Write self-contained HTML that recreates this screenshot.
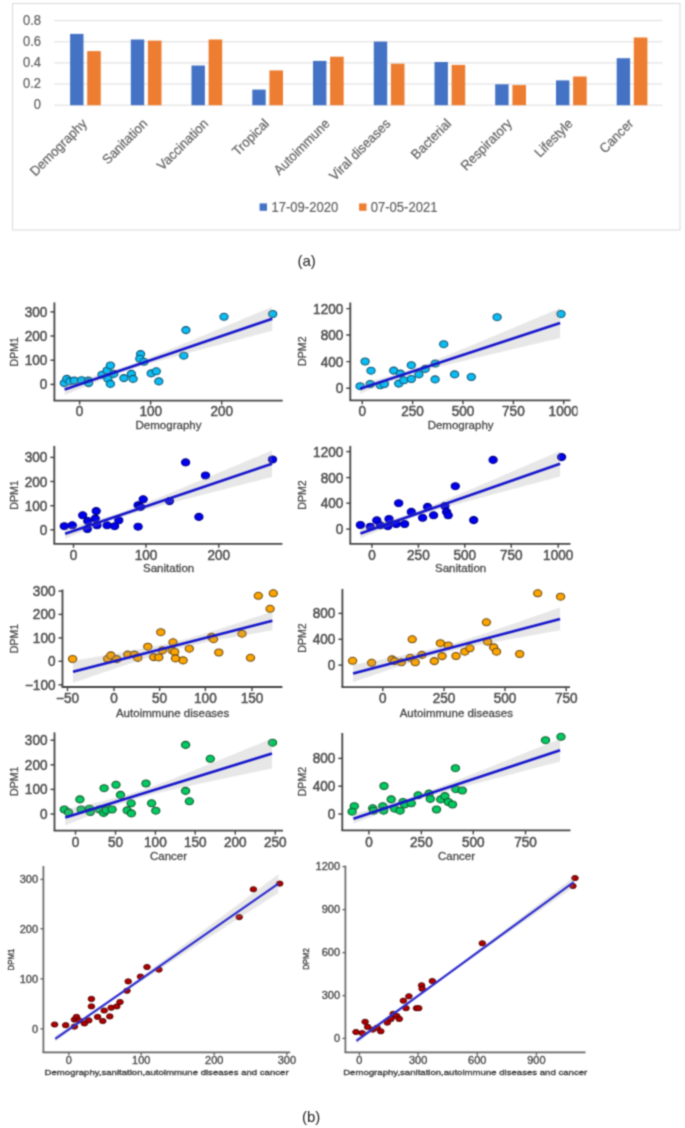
<!DOCTYPE html>
<html><head><meta charset="utf-8"><style>
html,body{margin:0;padding:0;background:#fff;}
body{width:685px;height:1128px;overflow:hidden;}
svg{display:block;font-family:"Liberation Sans", sans-serif;}
</style></head><body>
<svg width="685" height="1128" viewBox="0 0 685 1128">
<defs><clipPath id="clipB1"><rect x="290" y="290" width="287.5" height="150"/></clipPath>
<filter id="bl" filterUnits="userSpaceOnUse" x="0" y="0" width="685" height="1128" color-interpolation-filters="sRGB"><feConvolveMatrix order="3" kernelMatrix="0.04387 0.12171 0.04387 0.12171 0.33767 0.12171 0.04387 0.12171 0.04387" edgeMode="duplicate"/></filter></defs>
<rect width="685" height="1128" fill="#fff"/>
<g filter="url(#bl)">
<rect x="12.5" y="3.5" width="667.5" height="226.5" fill="#fff" stroke="#d9d9d9" stroke-width="1"/>
<line x1="54.3" y1="20.6" x2="662.5" y2="20.6" stroke="#dcdcdc" stroke-width="1"/>
<text transform="translate(41,24.5) scale(0.91,1)" text-anchor="end" font-size="14.2" fill="#636363" stroke="#636363" stroke-width="0.25">0.8</text>
<line x1="54.3" y1="41.75" x2="662.5" y2="41.75" stroke="#dcdcdc" stroke-width="1"/>
<text transform="translate(41,45.6) scale(0.91,1)" text-anchor="end" font-size="14.2" fill="#636363" stroke="#636363" stroke-width="0.25">0.6</text>
<line x1="54.3" y1="62.9" x2="662.5" y2="62.9" stroke="#dcdcdc" stroke-width="1"/>
<text transform="translate(41,66.8) scale(0.91,1)" text-anchor="end" font-size="14.2" fill="#636363" stroke="#636363" stroke-width="0.25">0.4</text>
<line x1="54.3" y1="84.05" x2="662.5" y2="84.05" stroke="#dcdcdc" stroke-width="1"/>
<text transform="translate(41,88.0) scale(0.91,1)" text-anchor="end" font-size="14.2" fill="#636363" stroke="#636363" stroke-width="0.25">0.2</text>
<line x1="54.3" y1="105.2" x2="662.5" y2="105.2" stroke="#dcdcdc" stroke-width="1"/>
<text transform="translate(41,109.1) scale(0.91,1)" text-anchor="end" font-size="14.2" fill="#636363" stroke="#636363" stroke-width="0.25">0</text>
<rect x="70.1" y="33.9" width="13.4" height="71.3" fill="#4472C4"/>
<rect x="87.2" y="51.099999999999994" width="13.6" height="54.1" fill="#ED7D31"/>
<text transform="translate(87.7,124.5) rotate(-45) scale(0.95,1)" text-anchor="end" font-size="13.6" fill="#636363" stroke="#636363" stroke-width="0.2">Demography</text>
<rect x="130.8" y="39.5" width="13.4" height="65.7" fill="#4472C4"/>
<rect x="147.9" y="40.599999999999994" width="13.6" height="64.6" fill="#ED7D31"/>
<text transform="translate(148.4,124.5) rotate(-45) scale(0.95,1)" text-anchor="end" font-size="13.6" fill="#636363" stroke="#636363" stroke-width="0.2">Sanitation</text>
<rect x="191.5" y="65.5" width="13.4" height="39.7" fill="#4472C4"/>
<rect x="208.6" y="39.5" width="13.6" height="65.7" fill="#ED7D31"/>
<text transform="translate(209.1,124.5) rotate(-45) scale(0.95,1)" text-anchor="end" font-size="13.6" fill="#636363" stroke="#636363" stroke-width="0.2">Vaccination</text>
<rect x="252.3" y="89.6" width="13.4" height="15.6" fill="#4472C4"/>
<rect x="269.4" y="70.39999999999999" width="13.6" height="34.8" fill="#ED7D31"/>
<text transform="translate(269.9,124.5) rotate(-45) scale(0.95,1)" text-anchor="end" font-size="13.6" fill="#636363" stroke="#636363" stroke-width="0.2">Tropical</text>
<rect x="313.0" y="60.9" width="13.4" height="44.3" fill="#4472C4"/>
<rect x="330.1" y="56.699999999999996" width="13.6" height="48.5" fill="#ED7D31"/>
<text transform="translate(330.6,124.5) rotate(-45) scale(0.95,1)" text-anchor="end" font-size="13.6" fill="#636363" stroke="#636363" stroke-width="0.2">Autoimmune</text>
<rect x="373.8" y="41.599999999999994" width="13.4" height="63.6" fill="#4472C4"/>
<rect x="390.9" y="63.699999999999996" width="13.6" height="41.5" fill="#ED7D31"/>
<text transform="translate(391.4,124.5) rotate(-45) scale(0.95,1)" text-anchor="end" font-size="13.6" fill="#636363" stroke="#636363" stroke-width="0.2">Viral diseases</text>
<rect x="434.5" y="62.0" width="13.4" height="43.2" fill="#4472C4"/>
<rect x="451.6" y="64.89999999999999" width="13.6" height="40.3" fill="#ED7D31"/>
<text transform="translate(452.1,124.5) rotate(-45) scale(0.95,1)" text-anchor="end" font-size="13.6" fill="#636363" stroke="#636363" stroke-width="0.2">Bacterial</text>
<rect x="495.2" y="84.3" width="13.4" height="20.9" fill="#4472C4"/>
<rect x="512.4" y="85.1" width="13.6" height="20.1" fill="#ED7D31"/>
<text transform="translate(512.9,124.5) rotate(-45) scale(0.95,1)" text-anchor="end" font-size="13.6" fill="#636363" stroke="#636363" stroke-width="0.2">Respiratory</text>
<rect x="556.0" y="80.39999999999999" width="13.4" height="24.8" fill="#4472C4"/>
<rect x="573.1" y="76.5" width="13.6" height="28.7" fill="#ED7D31"/>
<text transform="translate(573.6,124.5) rotate(-45) scale(0.95,1)" text-anchor="end" font-size="13.6" fill="#636363" stroke="#636363" stroke-width="0.2">Lifestyle</text>
<rect x="616.7" y="58.199999999999996" width="13.4" height="47.0" fill="#4472C4"/>
<rect x="633.8" y="37.5" width="13.6" height="67.7" fill="#ED7D31"/>
<text transform="translate(634.3,124.5) rotate(-45) scale(0.95,1)" text-anchor="end" font-size="13.6" fill="#636363" stroke="#636363" stroke-width="0.2">Cancer</text>
<rect x="259.6" y="203.4" width="7.4" height="7.4" fill="#4472C4"/>
<text transform="translate(271.5,212) scale(0.94,1)" font-size="13.9" fill="#636363" stroke="#636363" stroke-width="0.2">17-09-2020</text>
<rect x="359.1" y="203.4" width="7.4" height="7.4" fill="#ED7D31"/>
<text transform="translate(370.7,212) scale(0.94,1)" font-size="13.9" fill="#636363" stroke="#636363" stroke-width="0.2">07-05-2021</text>
<text x="297.5" y="266" font-size="15" fill="#222">(a)</text>
<ellipse cx="64.3" cy="383.1" rx="4.1" ry="3.5" fill="#0abdf5" stroke="#125470" stroke-width="1.1"/>
<ellipse cx="66.8" cy="378.9" rx="4.1" ry="3.5" fill="#0abdf5" stroke="#125470" stroke-width="1.1"/>
<ellipse cx="69.8" cy="381.4" rx="4.1" ry="3.5" fill="#0abdf5" stroke="#125470" stroke-width="1.1"/>
<ellipse cx="74.3" cy="380.6" rx="4.1" ry="3.5" fill="#0abdf5" stroke="#125470" stroke-width="1.1"/>
<ellipse cx="81.6" cy="380.2" rx="4.1" ry="3.5" fill="#0abdf5" stroke="#125470" stroke-width="1.1"/>
<ellipse cx="88.3" cy="380.6" rx="4.1" ry="3.5" fill="#0abdf5" stroke="#125470" stroke-width="1.1"/>
<ellipse cx="88.6" cy="383.1" rx="4.1" ry="3.5" fill="#0abdf5" stroke="#125470" stroke-width="1.1"/>
<ellipse cx="102" cy="374.7" rx="4.1" ry="3.5" fill="#0abdf5" stroke="#125470" stroke-width="1.1"/>
<ellipse cx="107.1" cy="370.5" rx="4.1" ry="3.5" fill="#0abdf5" stroke="#125470" stroke-width="1.1"/>
<ellipse cx="110.4" cy="365.5" rx="4.1" ry="3.5" fill="#0abdf5" stroke="#125470" stroke-width="1.1"/>
<ellipse cx="107.9" cy="378.9" rx="4.1" ry="3.5" fill="#0abdf5" stroke="#125470" stroke-width="1.1"/>
<ellipse cx="110.4" cy="383.9" rx="4.1" ry="3.5" fill="#0abdf5" stroke="#125470" stroke-width="1.1"/>
<ellipse cx="113.8" cy="373.9" rx="4.1" ry="3.5" fill="#0abdf5" stroke="#125470" stroke-width="1.1"/>
<ellipse cx="123.9" cy="378.1" rx="4.1" ry="3.5" fill="#0abdf5" stroke="#125470" stroke-width="1.1"/>
<ellipse cx="131.4" cy="373.9" rx="4.1" ry="3.5" fill="#0abdf5" stroke="#125470" stroke-width="1.1"/>
<ellipse cx="133.1" cy="378.9" rx="4.1" ry="3.5" fill="#0abdf5" stroke="#125470" stroke-width="1.1"/>
<ellipse cx="140.6" cy="354.1" rx="4.1" ry="3.5" fill="#0abdf5" stroke="#125470" stroke-width="1.1"/>
<ellipse cx="139.8" cy="358.8" rx="4.1" ry="3.5" fill="#0abdf5" stroke="#125470" stroke-width="1.1"/>
<ellipse cx="144" cy="361.8" rx="4.1" ry="3.5" fill="#0abdf5" stroke="#125470" stroke-width="1.1"/>
<ellipse cx="151.2" cy="373.4" rx="4.1" ry="3.5" fill="#0abdf5" stroke="#125470" stroke-width="1.1"/>
<ellipse cx="156.3" cy="371.3" rx="4.1" ry="3.5" fill="#0abdf5" stroke="#125470" stroke-width="1.1"/>
<ellipse cx="158.8" cy="381.4" rx="4.1" ry="3.5" fill="#0abdf5" stroke="#125470" stroke-width="1.1"/>
<ellipse cx="185.9" cy="330.1" rx="4.1" ry="3.5" fill="#0abdf5" stroke="#125470" stroke-width="1.1"/>
<ellipse cx="224" cy="316.8" rx="4.1" ry="3.5" fill="#0abdf5" stroke="#125470" stroke-width="1.1"/>
<ellipse cx="272.7" cy="314" rx="4.1" ry="3.5" fill="#0abdf5" stroke="#125470" stroke-width="1.1"/>
<ellipse cx="183.8" cy="355.7" rx="4.1" ry="3.5" fill="#0abdf5" stroke="#125470" stroke-width="1.1"/>
<polygon points="64.6,384.1 69.8,382.7 75.0,381.3 80.2,379.9 85.4,378.4 90.6,377.0 95.8,375.5 100.9,374.0 106.1,372.5 111.3,370.9 116.5,369.3 121.7,367.6 126.9,365.8 132.1,364.0 137.3,362.1 142.5,360.2 147.7,358.2 152.9,356.2 158.1,354.1 163.3,352.0 168.4,349.9 173.6,347.8 178.8,345.7 184.0,343.5 189.2,341.4 194.4,339.2 199.6,337.1 204.8,334.9 210.0,332.8 215.2,330.6 220.4,328.4 225.6,326.3 230.8,324.1 236.0,321.9 241.1,319.8 246.3,317.6 251.5,315.4 256.7,313.2 261.9,311.1 267.1,308.9 272.3,306.7 272.3,330.7 267.1,332.1 261.9,333.4 256.7,334.8 251.5,336.2 246.3,337.5 241.1,338.9 236.0,340.3 230.8,341.7 225.6,343.0 220.4,344.4 215.2,345.8 210.0,347.2 204.8,348.5 199.6,349.9 194.4,351.3 189.2,352.7 184.0,354.1 178.8,355.5 173.6,357.0 168.4,358.4 163.3,359.8 158.1,361.3 152.9,362.8 147.7,364.3 142.5,365.8 137.3,367.5 132.1,369.1 126.9,370.8 121.7,372.6 116.5,374.5 111.3,376.4 106.1,378.4 100.9,380.4 95.8,382.4 90.6,384.5 85.4,386.6 80.2,388.7 75.0,390.8 69.8,393.0 64.6,395.1" fill="#999999" fill-opacity="0.23"/>
<line x1="64.6" y1="389.6" x2="272.3" y2="318.7" stroke="#1515cc" stroke-width="2.6"/>
<line x1="54.4" y1="302.4" x2="54.4" y2="400.7" stroke="#444" stroke-width="1.8"/>
<line x1="53.5" y1="400.7" x2="282.7" y2="400.7" stroke="#444" stroke-width="1.8"/>
<line x1="50.4" y1="311.9" x2="54.4" y2="311.9" stroke="#444" stroke-width="1.4400000000000002"/>
<text transform="translate(47.4,316.9) scale(0.97,1)" text-anchor="end" font-size="14" fill="#4d4d4d" stroke="#4d4d4d" stroke-width="0.5">300</text>
<line x1="50.4" y1="336.0" x2="54.4" y2="336.0" stroke="#444" stroke-width="1.4400000000000002"/>
<text transform="translate(47.4,341.0) scale(0.97,1)" text-anchor="end" font-size="14" fill="#4d4d4d" stroke="#4d4d4d" stroke-width="0.5">200</text>
<line x1="50.4" y1="360.2" x2="54.4" y2="360.2" stroke="#444" stroke-width="1.4400000000000002"/>
<text transform="translate(47.4,365.2) scale(0.97,1)" text-anchor="end" font-size="14" fill="#4d4d4d" stroke="#4d4d4d" stroke-width="0.5">100</text>
<line x1="50.4" y1="384.4" x2="54.4" y2="384.4" stroke="#444" stroke-width="1.4400000000000002"/>
<text transform="translate(47.4,389.4) scale(0.97,1)" text-anchor="end" font-size="14" fill="#4d4d4d" stroke="#4d4d4d" stroke-width="0.5">0</text>
<line x1="79.6" y1="400.7" x2="79.6" y2="404.7" stroke="#444" stroke-width="1.4400000000000002"/>
<text transform="translate(79.6,416.0) scale(0.97,1)" text-anchor="middle" font-size="14" fill="#4d4d4d" stroke="#4d4d4d" stroke-width="0.5">0</text>
<line x1="150.65" y1="400.7" x2="150.65" y2="404.7" stroke="#444" stroke-width="1.4400000000000002"/>
<text transform="translate(150.7,416.0) scale(0.97,1)" text-anchor="middle" font-size="14" fill="#4d4d4d" stroke="#4d4d4d" stroke-width="0.5">100</text>
<line x1="221.7" y1="400.7" x2="221.7" y2="404.7" stroke="#444" stroke-width="1.4400000000000002"/>
<text transform="translate(221.7,416.0) scale(0.97,1)" text-anchor="middle" font-size="14" fill="#4d4d4d" stroke="#4d4d4d" stroke-width="0.5">200</text>
<text transform="translate(168.5,428.9) scale(1.13,1)" text-anchor="middle" font-size="10.2" fill="#444" stroke="#444" stroke-width="0.25">Demography</text>
<text transform="translate(17.8,351.8) rotate(-90) scale(1,0.97)" text-anchor="middle" font-size="10.6" fill="#444" stroke="#444" stroke-width="0.25">DPM1</text>
<g clip-path="url(#clipB1)">
<ellipse cx="360.1" cy="386.2" rx="4.1" ry="3.5" fill="#0abdf5" stroke="#125470" stroke-width="1.1"/>
<ellipse cx="365.1" cy="361.5" rx="4.1" ry="3.5" fill="#0abdf5" stroke="#125470" stroke-width="1.1"/>
<ellipse cx="371" cy="370.7" rx="4.1" ry="3.5" fill="#0abdf5" stroke="#125470" stroke-width="1.1"/>
<ellipse cx="370.2" cy="384" rx="4.1" ry="3.5" fill="#0abdf5" stroke="#125470" stroke-width="1.1"/>
<ellipse cx="380.3" cy="385.3" rx="4.1" ry="3.5" fill="#0abdf5" stroke="#125470" stroke-width="1.1"/>
<ellipse cx="384.4" cy="384" rx="4.1" ry="3.5" fill="#0abdf5" stroke="#125470" stroke-width="1.1"/>
<ellipse cx="393.7" cy="370.6" rx="4.1" ry="3.5" fill="#0abdf5" stroke="#125470" stroke-width="1.1"/>
<ellipse cx="398.7" cy="383.6" rx="4.1" ry="3.5" fill="#0abdf5" stroke="#125470" stroke-width="1.1"/>
<ellipse cx="400.4" cy="373.6" rx="4.1" ry="3.5" fill="#0abdf5" stroke="#125470" stroke-width="1.1"/>
<ellipse cx="403.8" cy="380.3" rx="4.1" ry="3.5" fill="#0abdf5" stroke="#125470" stroke-width="1.1"/>
<ellipse cx="411.3" cy="365.2" rx="4.1" ry="3.5" fill="#0abdf5" stroke="#125470" stroke-width="1.1"/>
<ellipse cx="411.3" cy="379" rx="4.1" ry="3.5" fill="#0abdf5" stroke="#125470" stroke-width="1.1"/>
<ellipse cx="418.9" cy="374.4" rx="4.1" ry="3.5" fill="#0abdf5" stroke="#125470" stroke-width="1.1"/>
<ellipse cx="425.2" cy="368.9" rx="4.1" ry="3.5" fill="#0abdf5" stroke="#125470" stroke-width="1.1"/>
<ellipse cx="435.3" cy="363.5" rx="4.1" ry="3.5" fill="#0abdf5" stroke="#125470" stroke-width="1.1"/>
<ellipse cx="435.1" cy="379.4" rx="4.1" ry="3.5" fill="#0abdf5" stroke="#125470" stroke-width="1.1"/>
<ellipse cx="443.7" cy="344.2" rx="4.1" ry="3.5" fill="#0abdf5" stroke="#125470" stroke-width="1.1"/>
<ellipse cx="454.6" cy="374.4" rx="4.1" ry="3.5" fill="#0abdf5" stroke="#125470" stroke-width="1.1"/>
<ellipse cx="471.3" cy="377" rx="4.1" ry="3.5" fill="#0abdf5" stroke="#125470" stroke-width="1.1"/>
<ellipse cx="497.1" cy="317.2" rx="4.1" ry="3.5" fill="#0abdf5" stroke="#125470" stroke-width="1.1"/>
<ellipse cx="561" cy="314" rx="4.1" ry="3.5" fill="#0abdf5" stroke="#125470" stroke-width="1.1"/>
<polygon points="360.1,383.7 365.1,382.5 370.1,381.2 375.1,380.0 380.1,378.7 385.1,377.3 390.1,376.0 395.1,374.5 400.1,373.0 405.1,371.4 410.1,369.8 415.1,368.0 420.1,366.2 425.1,364.2 430.1,362.3 435.1,360.3 440.1,358.3 445.1,356.3 450.1,354.2 455.1,352.2 460.1,350.1 465.1,348.0 470.1,345.9 475.1,343.9 480.1,341.8 485.1,339.7 490.1,337.6 495.1,335.5 500.1,333.4 505.1,331.3 510.1,329.2 515.1,327.1 520.1,325.0 525.1,322.9 530.1,320.8 535.1,318.7 540.1,316.5 545.1,314.4 550.1,312.3 555.1,310.2 560.1,308.1 560.1,338.1 555.1,339.3 550.1,340.4 545.1,341.6 540.1,342.8 535.1,343.9 530.1,345.1 525.1,346.3 520.1,347.5 515.1,348.6 510.1,349.8 505.1,351.0 500.1,352.2 495.1,353.4 490.1,354.5 485.1,355.7 480.1,356.9 475.1,358.1 470.1,359.3 465.1,360.5 460.1,361.7 455.1,362.9 450.1,364.1 445.1,365.4 440.1,366.6 435.1,367.9 430.1,369.2 425.1,370.5 420.1,371.9 415.1,373.3 410.1,374.8 405.1,376.4 400.1,378.1 395.1,379.9 390.1,381.8 385.1,383.7 380.1,385.6 375.1,387.6 370.1,389.6 365.1,391.7 360.1,393.7" fill="#999999" fill-opacity="0.23"/>
<line x1="360.1" y1="388.7" x2="560.1" y2="323.1" stroke="#1515cc" stroke-width="2.6"/>
<line x1="350.3" y1="302.4" x2="350.3" y2="400.3" stroke="#444" stroke-width="1.8"/>
<line x1="349.40000000000003" y1="400.3" x2="570.5" y2="400.3" stroke="#444" stroke-width="1.8"/>
<line x1="346.3" y1="308.6" x2="350.3" y2="308.6" stroke="#444" stroke-width="1.4400000000000002"/>
<text transform="translate(343.3,313.6) scale(0.97,1)" text-anchor="end" font-size="14" fill="#4d4d4d" stroke="#4d4d4d" stroke-width="0.5">1200</text>
<line x1="346.3" y1="335.0" x2="350.3" y2="335.0" stroke="#444" stroke-width="1.4400000000000002"/>
<text transform="translate(343.3,340.0) scale(0.97,1)" text-anchor="end" font-size="14" fill="#4d4d4d" stroke="#4d4d4d" stroke-width="0.5">800</text>
<line x1="346.3" y1="361.6" x2="350.3" y2="361.6" stroke="#444" stroke-width="1.4400000000000002"/>
<text transform="translate(343.3,366.6) scale(0.97,1)" text-anchor="end" font-size="14" fill="#4d4d4d" stroke="#4d4d4d" stroke-width="0.5">400</text>
<line x1="346.3" y1="388.2" x2="350.3" y2="388.2" stroke="#444" stroke-width="1.4400000000000002"/>
<text transform="translate(343.3,393.2) scale(0.97,1)" text-anchor="end" font-size="14" fill="#4d4d4d" stroke="#4d4d4d" stroke-width="0.5">0</text>
<line x1="362.3" y1="400.3" x2="362.3" y2="404.3" stroke="#444" stroke-width="1.4400000000000002"/>
<text transform="translate(362.3,416.0) scale(0.97,1)" text-anchor="middle" font-size="14" fill="#4d4d4d" stroke="#4d4d4d" stroke-width="0.5">0</text>
<line x1="412.6" y1="400.3" x2="412.6" y2="404.3" stroke="#444" stroke-width="1.4400000000000002"/>
<text transform="translate(412.6,416.0) scale(0.97,1)" text-anchor="middle" font-size="14" fill="#4d4d4d" stroke="#4d4d4d" stroke-width="0.5">250</text>
<line x1="463.0" y1="400.3" x2="463.0" y2="404.3" stroke="#444" stroke-width="1.4400000000000002"/>
<text transform="translate(463.0,416.0) scale(0.97,1)" text-anchor="middle" font-size="14" fill="#4d4d4d" stroke="#4d4d4d" stroke-width="0.5">500</text>
<line x1="513.4" y1="400.3" x2="513.4" y2="404.3" stroke="#444" stroke-width="1.4400000000000002"/>
<text transform="translate(513.4,416.0) scale(0.97,1)" text-anchor="middle" font-size="14" fill="#4d4d4d" stroke="#4d4d4d" stroke-width="0.5">750</text>
<line x1="563.7" y1="400.3" x2="563.7" y2="404.3" stroke="#444" stroke-width="1.4400000000000002"/>
<text transform="translate(563.7,416.0) scale(0.97,1)" text-anchor="middle" font-size="14" fill="#4d4d4d" stroke="#4d4d4d" stroke-width="0.5">1000</text>
<text transform="translate(460.6,428.9) scale(1.13,1)" text-anchor="middle" font-size="10.2" fill="#444" stroke="#444" stroke-width="0.25">Demography</text>
<text transform="translate(306.4,351.2) rotate(-90) scale(1,0.97)" text-anchor="middle" font-size="10.6" fill="#444" stroke="#444" stroke-width="0.25">DPM2</text>
</g>
<ellipse cx="64.3" cy="526.2" rx="4.1" ry="3.5" fill="#0000f0" stroke="#000080" stroke-width="1.1"/>
<ellipse cx="72.3" cy="525.3" rx="4.1" ry="3.5" fill="#0000f0" stroke="#000080" stroke-width="1.1"/>
<ellipse cx="82.7" cy="515.3" rx="4.1" ry="3.5" fill="#0000f0" stroke="#000080" stroke-width="1.1"/>
<ellipse cx="87.3" cy="529" rx="4.1" ry="3.5" fill="#0000f0" stroke="#000080" stroke-width="1.1"/>
<ellipse cx="87.8" cy="521.1" rx="4.1" ry="3.5" fill="#0000f0" stroke="#000080" stroke-width="1.1"/>
<ellipse cx="96.2" cy="511.1" rx="4.1" ry="3.5" fill="#0000f0" stroke="#000080" stroke-width="1.1"/>
<ellipse cx="95.3" cy="518.6" rx="4.1" ry="3.5" fill="#0000f0" stroke="#000080" stroke-width="1.1"/>
<ellipse cx="97" cy="525.3" rx="4.1" ry="3.5" fill="#0000f0" stroke="#000080" stroke-width="1.1"/>
<ellipse cx="107.1" cy="525.3" rx="4.1" ry="3.5" fill="#0000f0" stroke="#000080" stroke-width="1.1"/>
<ellipse cx="114.6" cy="526.2" rx="4.1" ry="3.5" fill="#0000f0" stroke="#000080" stroke-width="1.1"/>
<ellipse cx="118.8" cy="520.3" rx="4.1" ry="3.5" fill="#0000f0" stroke="#000080" stroke-width="1.1"/>
<ellipse cx="138.1" cy="526.7" rx="4.1" ry="3.5" fill="#0000f0" stroke="#000080" stroke-width="1.1"/>
<ellipse cx="138.1" cy="505.2" rx="4.1" ry="3.5" fill="#0000f0" stroke="#000080" stroke-width="1.1"/>
<ellipse cx="143.2" cy="499.3" rx="4.1" ry="3.5" fill="#0000f0" stroke="#000080" stroke-width="1.1"/>
<ellipse cx="140.6" cy="506.9" rx="4.1" ry="3.5" fill="#0000f0" stroke="#000080" stroke-width="1.1"/>
<ellipse cx="185.6" cy="462.4" rx="4.1" ry="3.5" fill="#0000f0" stroke="#000080" stroke-width="1.1"/>
<ellipse cx="205.5" cy="475.5" rx="4.1" ry="3.5" fill="#0000f0" stroke="#000080" stroke-width="1.1"/>
<ellipse cx="272.5" cy="459.5" rx="4.1" ry="3.5" fill="#0000f0" stroke="#000080" stroke-width="1.1"/>
<ellipse cx="169.5" cy="501.1" rx="4.1" ry="3.5" fill="#0000f0" stroke="#000080" stroke-width="1.1"/>
<ellipse cx="198.9" cy="516.9" rx="4.1" ry="3.5" fill="#0000f0" stroke="#000080" stroke-width="1.1"/>
<polygon points="65.1,528.7 70.3,527.3 75.4,525.9 80.6,524.5 85.8,523.1 91.0,521.6 96.1,520.2 101.3,518.6 106.5,517.1 111.7,515.4 116.8,513.7 122.0,511.9 127.2,510.0 132.3,508.1 137.5,506.1 142.7,504.1 147.9,502.1 153.0,500.0 158.2,497.9 163.4,495.8 168.6,493.7 173.7,491.5 178.9,489.4 184.1,487.3 189.2,485.1 194.4,482.9 199.6,480.8 204.8,478.6 209.9,476.5 215.1,474.3 220.3,472.1 225.4,470.0 230.6,467.8 235.8,465.6 241.0,463.5 246.1,461.3 251.3,459.1 256.5,456.9 261.7,454.8 266.8,452.6 272.0,450.4 272.0,477.0 266.8,478.3 261.7,479.6 256.5,481.0 251.3,482.3 246.1,483.6 241.0,484.9 235.8,486.3 230.6,487.6 225.4,488.9 220.3,490.3 215.1,491.6 209.9,492.9 204.8,494.3 199.6,495.6 194.4,497.0 189.2,498.3 184.1,499.6 178.9,501.0 173.7,502.4 168.6,503.7 163.4,505.1 158.2,506.5 153.0,507.9 147.9,509.3 142.7,510.8 137.5,512.3 132.3,513.8 127.2,515.4 122.0,517.0 116.8,518.7 111.7,520.5 106.5,522.3 101.3,524.3 96.1,526.2 91.0,528.3 85.8,530.3 80.6,532.4 75.4,534.5 70.3,536.6 65.1,538.7" fill="#999999" fill-opacity="0.23"/>
<line x1="65.1" y1="533.7" x2="272" y2="463.7" stroke="#1515cc" stroke-width="2.6"/>
<line x1="54.3" y1="445.9" x2="54.3" y2="543.8" stroke="#444" stroke-width="1.8"/>
<line x1="53.4" y1="543.8" x2="282.4" y2="543.8" stroke="#444" stroke-width="1.8"/>
<line x1="50.3" y1="457.4" x2="54.3" y2="457.4" stroke="#444" stroke-width="1.4400000000000002"/>
<text transform="translate(47.3,462.4) scale(0.97,1)" text-anchor="end" font-size="14" fill="#4d4d4d" stroke="#4d4d4d" stroke-width="0.5">300</text>
<line x1="50.3" y1="481.5" x2="54.3" y2="481.5" stroke="#444" stroke-width="1.4400000000000002"/>
<text transform="translate(47.3,486.5) scale(0.97,1)" text-anchor="end" font-size="14" fill="#4d4d4d" stroke="#4d4d4d" stroke-width="0.5">200</text>
<line x1="50.3" y1="505.7" x2="54.3" y2="505.7" stroke="#444" stroke-width="1.4400000000000002"/>
<text transform="translate(47.3,510.7) scale(0.97,1)" text-anchor="end" font-size="14" fill="#4d4d4d" stroke="#4d4d4d" stroke-width="0.5">100</text>
<line x1="50.3" y1="529.8" x2="54.3" y2="529.8" stroke="#444" stroke-width="1.4400000000000002"/>
<text transform="translate(47.3,534.8) scale(0.97,1)" text-anchor="end" font-size="14" fill="#4d4d4d" stroke="#4d4d4d" stroke-width="0.5">0</text>
<line x1="73.5" y1="543.8" x2="73.5" y2="547.8" stroke="#444" stroke-width="1.4400000000000002"/>
<text transform="translate(73.5,560.0) scale(0.97,1)" text-anchor="middle" font-size="14" fill="#4d4d4d" stroke="#4d4d4d" stroke-width="0.5">0</text>
<line x1="146.0" y1="543.8" x2="146.0" y2="547.8" stroke="#444" stroke-width="1.4400000000000002"/>
<text transform="translate(146.0,560.0) scale(0.97,1)" text-anchor="middle" font-size="14" fill="#4d4d4d" stroke="#4d4d4d" stroke-width="0.5">100</text>
<line x1="218.8" y1="543.8" x2="218.8" y2="547.8" stroke="#444" stroke-width="1.4400000000000002"/>
<text transform="translate(218.8,560.0) scale(0.97,1)" text-anchor="middle" font-size="14" fill="#4d4d4d" stroke="#4d4d4d" stroke-width="0.5">200</text>
<text transform="translate(168.6,572.4) scale(1.13,1)" text-anchor="middle" font-size="10.2" fill="#444" stroke="#444" stroke-width="0.25">Sanitation</text>
<text transform="translate(17.8,495.0) rotate(-90) scale(1,0.97)" text-anchor="middle" font-size="10.6" fill="#444" stroke="#444" stroke-width="0.25">DPM1</text>
<ellipse cx="360.4" cy="525" rx="4.1" ry="3.5" fill="#0000f0" stroke="#000080" stroke-width="1.1"/>
<ellipse cx="370.2" cy="526.7" rx="4.1" ry="3.5" fill="#0000f0" stroke="#000080" stroke-width="1.1"/>
<ellipse cx="376.8" cy="520.4" rx="4.1" ry="3.5" fill="#0000f0" stroke="#000080" stroke-width="1.1"/>
<ellipse cx="380.3" cy="525.3" rx="4.1" ry="3.5" fill="#0000f0" stroke="#000080" stroke-width="1.1"/>
<ellipse cx="387.8" cy="526.2" rx="4.1" ry="3.5" fill="#0000f0" stroke="#000080" stroke-width="1.1"/>
<ellipse cx="389" cy="519" rx="4.1" ry="3.5" fill="#0000f0" stroke="#000080" stroke-width="1.1"/>
<ellipse cx="396.2" cy="524" rx="4.1" ry="3.5" fill="#0000f0" stroke="#000080" stroke-width="1.1"/>
<ellipse cx="398.7" cy="503.2" rx="4.1" ry="3.5" fill="#0000f0" stroke="#000080" stroke-width="1.1"/>
<ellipse cx="404.6" cy="524" rx="4.1" ry="3.5" fill="#0000f0" stroke="#000080" stroke-width="1.1"/>
<ellipse cx="411.3" cy="511.9" rx="4.1" ry="3.5" fill="#0000f0" stroke="#000080" stroke-width="1.1"/>
<ellipse cx="422.6" cy="517.8" rx="4.1" ry="3.5" fill="#0000f0" stroke="#000080" stroke-width="1.1"/>
<ellipse cx="427.6" cy="506.9" rx="4.1" ry="3.5" fill="#0000f0" stroke="#000080" stroke-width="1.1"/>
<ellipse cx="433.6" cy="515.3" rx="4.1" ry="3.5" fill="#0000f0" stroke="#000080" stroke-width="1.1"/>
<ellipse cx="444.9" cy="506" rx="4.1" ry="3.5" fill="#0000f0" stroke="#000080" stroke-width="1.1"/>
<ellipse cx="446.6" cy="511.9" rx="4.1" ry="3.5" fill="#0000f0" stroke="#000080" stroke-width="1.1"/>
<ellipse cx="448.2" cy="515.3" rx="4.1" ry="3.5" fill="#0000f0" stroke="#000080" stroke-width="1.1"/>
<ellipse cx="455.3" cy="486.2" rx="4.1" ry="3.5" fill="#0000f0" stroke="#000080" stroke-width="1.1"/>
<ellipse cx="493.1" cy="459.9" rx="4.1" ry="3.5" fill="#0000f0" stroke="#000080" stroke-width="1.1"/>
<ellipse cx="561.6" cy="457.1" rx="4.1" ry="3.5" fill="#0000f0" stroke="#000080" stroke-width="1.1"/>
<ellipse cx="473.7" cy="520.1" rx="4.1" ry="3.5" fill="#0000f0" stroke="#000080" stroke-width="1.1"/>
<polygon points="360.4,528.4 365.4,527.0 370.4,525.6 375.4,524.2 380.4,522.8 385.4,521.3 390.4,519.9 395.3,518.3 400.3,516.8 405.3,515.2 410.3,513.5 415.3,511.7 420.3,509.9 425.3,508.0 430.3,506.0 435.3,504.1 440.3,502.0 445.3,500.0 450.3,497.9 455.3,495.8 460.2,493.7 465.2,491.6 470.2,489.5 475.2,487.4 480.2,485.3 485.2,483.1 490.2,481.0 495.2,478.9 500.2,476.7 505.2,474.6 510.2,472.4 515.2,470.3 520.2,468.1 525.2,466.0 530.1,463.8 535.1,461.7 540.1,459.5 545.1,457.4 550.1,455.2 555.1,453.1 560.1,450.9 560.1,476.5 555.1,477.8 550.1,479.2 545.1,480.5 540.1,481.8 535.1,483.2 530.1,484.5 525.2,485.8 520.2,487.2 515.2,488.5 510.2,489.8 505.2,491.2 500.2,492.5 495.2,493.8 490.2,495.2 485.2,496.5 480.2,497.9 475.2,499.3 470.2,500.6 465.2,502.0 460.2,503.4 455.3,504.7 450.3,506.1 445.3,507.6 440.3,509.0 435.3,510.5 430.3,512.0 425.3,513.5 420.3,515.1 415.3,516.8 410.3,518.5 405.3,520.3 400.3,522.1 395.3,524.1 390.4,526.0 385.4,528.0 380.4,530.1 375.4,532.1 370.4,534.2 365.4,536.3 360.4,538.4" fill="#999999" fill-opacity="0.23"/>
<line x1="360.4" y1="533.4" x2="560.1" y2="463.7" stroke="#1515cc" stroke-width="2.6"/>
<line x1="350.3" y1="445.9" x2="350.3" y2="543.8" stroke="#444" stroke-width="1.8"/>
<line x1="349.40000000000003" y1="543.8" x2="570.5" y2="543.8" stroke="#444" stroke-width="1.8"/>
<line x1="346.3" y1="451.6" x2="350.3" y2="451.6" stroke="#444" stroke-width="1.4400000000000002"/>
<text transform="translate(343.3,456.6) scale(0.97,1)" text-anchor="end" font-size="14" fill="#4d4d4d" stroke="#4d4d4d" stroke-width="0.5">1200</text>
<line x1="346.3" y1="477.6" x2="350.3" y2="477.6" stroke="#444" stroke-width="1.4400000000000002"/>
<text transform="translate(343.3,482.6) scale(0.97,1)" text-anchor="end" font-size="14" fill="#4d4d4d" stroke="#4d4d4d" stroke-width="0.5">800</text>
<line x1="346.3" y1="503.2" x2="350.3" y2="503.2" stroke="#444" stroke-width="1.4400000000000002"/>
<text transform="translate(343.3,508.2) scale(0.97,1)" text-anchor="end" font-size="14" fill="#4d4d4d" stroke="#4d4d4d" stroke-width="0.5">400</text>
<line x1="346.3" y1="529.1" x2="350.3" y2="529.1" stroke="#444" stroke-width="1.4400000000000002"/>
<text transform="translate(343.3,534.1) scale(0.97,1)" text-anchor="end" font-size="14" fill="#4d4d4d" stroke="#4d4d4d" stroke-width="0.5">0</text>
<line x1="371.9" y1="543.8" x2="371.9" y2="547.8" stroke="#444" stroke-width="1.4400000000000002"/>
<text transform="translate(371.9,560.0) scale(0.97,1)" text-anchor="middle" font-size="14" fill="#4d4d4d" stroke="#4d4d4d" stroke-width="0.5">0</text>
<line x1="418.4" y1="543.8" x2="418.4" y2="547.8" stroke="#444" stroke-width="1.4400000000000002"/>
<text transform="translate(418.4,560.0) scale(0.97,1)" text-anchor="middle" font-size="14" fill="#4d4d4d" stroke="#4d4d4d" stroke-width="0.5">250</text>
<line x1="464.8" y1="543.8" x2="464.8" y2="547.8" stroke="#444" stroke-width="1.4400000000000002"/>
<text transform="translate(464.8,560.0) scale(0.97,1)" text-anchor="middle" font-size="14" fill="#4d4d4d" stroke="#4d4d4d" stroke-width="0.5">500</text>
<line x1="511.3" y1="543.8" x2="511.3" y2="547.8" stroke="#444" stroke-width="1.4400000000000002"/>
<text transform="translate(511.3,560.0) scale(0.97,1)" text-anchor="middle" font-size="14" fill="#4d4d4d" stroke="#4d4d4d" stroke-width="0.5">750</text>
<line x1="558.2" y1="543.8" x2="558.2" y2="547.8" stroke="#444" stroke-width="1.4400000000000002"/>
<text transform="translate(558.2,560.0) scale(0.97,1)" text-anchor="middle" font-size="14" fill="#4d4d4d" stroke="#4d4d4d" stroke-width="0.5">1000</text>
<text transform="translate(460.6,572.4) scale(1.13,1)" text-anchor="middle" font-size="10.2" fill="#444" stroke="#444" stroke-width="0.25">Sanitation</text>
<text transform="translate(306.2,495.0) rotate(-90) scale(1,0.97)" text-anchor="middle" font-size="10.6" fill="#444" stroke="#444" stroke-width="0.25">DPM2</text>
<ellipse cx="72.6" cy="659" rx="4.1" ry="3.5" fill="#ffa500" stroke="#6b4a10" stroke-width="1.1"/>
<ellipse cx="107.6" cy="658.8" rx="4.1" ry="3.5" fill="#ffa500" stroke="#6b4a10" stroke-width="1.1"/>
<ellipse cx="110.9" cy="655.4" rx="4.1" ry="3.5" fill="#ffa500" stroke="#6b4a10" stroke-width="1.1"/>
<ellipse cx="116.8" cy="659.1" rx="4.1" ry="3.5" fill="#ffa500" stroke="#6b4a10" stroke-width="1.1"/>
<ellipse cx="127.7" cy="654.6" rx="4.1" ry="3.5" fill="#ffa500" stroke="#6b4a10" stroke-width="1.1"/>
<ellipse cx="134.4" cy="654.6" rx="4.1" ry="3.5" fill="#ffa500" stroke="#6b4a10" stroke-width="1.1"/>
<ellipse cx="137.8" cy="657.9" rx="4.1" ry="3.5" fill="#ffa500" stroke="#6b4a10" stroke-width="1.1"/>
<ellipse cx="147.8" cy="646.7" rx="4.1" ry="3.5" fill="#ffa500" stroke="#6b4a10" stroke-width="1.1"/>
<ellipse cx="153.7" cy="657.1" rx="4.1" ry="3.5" fill="#ffa500" stroke="#6b4a10" stroke-width="1.1"/>
<ellipse cx="158.8" cy="657.4" rx="4.1" ry="3.5" fill="#ffa500" stroke="#6b4a10" stroke-width="1.1"/>
<ellipse cx="160.8" cy="632.2" rx="4.1" ry="3.5" fill="#ffa500" stroke="#6b4a10" stroke-width="1.1"/>
<ellipse cx="162.4" cy="650.4" rx="4.1" ry="3.5" fill="#ffa500" stroke="#6b4a10" stroke-width="1.1"/>
<ellipse cx="173" cy="642.3" rx="4.1" ry="3.5" fill="#ffa500" stroke="#6b4a10" stroke-width="1.1"/>
<ellipse cx="172.2" cy="650.4" rx="4.1" ry="3.5" fill="#ffa500" stroke="#6b4a10" stroke-width="1.1"/>
<ellipse cx="174.7" cy="652" rx="4.1" ry="3.5" fill="#ffa500" stroke="#6b4a10" stroke-width="1.1"/>
<ellipse cx="175.5" cy="658.4" rx="4.1" ry="3.5" fill="#ffa500" stroke="#6b4a10" stroke-width="1.1"/>
<ellipse cx="183.1" cy="660.4" rx="4.1" ry="3.5" fill="#ffa500" stroke="#6b4a10" stroke-width="1.1"/>
<ellipse cx="189.3" cy="648.7" rx="4.1" ry="3.5" fill="#ffa500" stroke="#6b4a10" stroke-width="1.1"/>
<ellipse cx="211.6" cy="636.9" rx="4.1" ry="3.5" fill="#ffa500" stroke="#6b4a10" stroke-width="1.1"/>
<ellipse cx="213.5" cy="639.2" rx="4.1" ry="3.5" fill="#ffa500" stroke="#6b4a10" stroke-width="1.1"/>
<ellipse cx="218.8" cy="652.5" rx="4.1" ry="3.5" fill="#ffa500" stroke="#6b4a10" stroke-width="1.1"/>
<ellipse cx="250.5" cy="657.8" rx="4.1" ry="3.5" fill="#ffa500" stroke="#6b4a10" stroke-width="1.1"/>
<ellipse cx="242" cy="633.7" rx="4.1" ry="3.5" fill="#ffa500" stroke="#6b4a10" stroke-width="1.1"/>
<ellipse cx="258.3" cy="595.8" rx="4.1" ry="3.5" fill="#ffa500" stroke="#6b4a10" stroke-width="1.1"/>
<ellipse cx="273.3" cy="593.3" rx="4.1" ry="3.5" fill="#ffa500" stroke="#6b4a10" stroke-width="1.1"/>
<ellipse cx="270.1" cy="608.8" rx="4.1" ry="3.5" fill="#ffa500" stroke="#6b4a10" stroke-width="1.1"/>
<polygon points="73.0,660.8 78.0,660.0 83.0,659.1 88.0,658.3 92.9,657.4 97.9,656.6 102.9,655.7 107.9,654.9 112.9,654.0 117.9,653.1 122.8,652.2 127.8,651.3 132.8,650.4 137.8,649.5 142.8,648.5 147.8,647.6 152.8,646.6 157.7,645.5 162.7,644.5 167.7,643.4 172.7,642.2 177.7,641.0 182.7,639.7 187.7,638.4 192.6,637.1 197.6,635.6 202.6,634.2 207.6,632.7 212.6,631.1 217.6,629.6 222.5,628.0 227.5,626.3 232.5,624.7 237.5,623.1 242.5,621.4 247.5,619.7 252.5,618.1 257.4,616.4 262.4,614.7 267.4,613.0 272.4,611.3 272.4,630.3 267.4,631.1 262.4,632.0 257.4,632.9 252.5,633.7 247.5,634.6 242.5,635.5 237.5,636.4 232.5,637.3 227.5,638.2 222.5,639.1 217.6,640.1 212.6,641.1 207.6,642.1 202.6,643.1 197.6,644.2 192.6,645.3 187.7,646.5 182.7,647.8 177.7,649.0 172.7,650.4 167.7,651.8 162.7,653.2 157.7,654.7 152.8,656.2 147.8,657.8 142.8,659.4 137.8,661.0 132.8,662.6 127.8,664.2 122.8,665.9 117.9,667.5 112.9,669.2 107.9,670.9 102.9,672.6 97.9,674.3 92.9,676.0 88.0,677.7 83.0,679.4 78.0,681.1 73.0,682.8" fill="#999999" fill-opacity="0.23"/>
<line x1="73" y1="671.8" x2="272.4" y2="620.8" stroke="#1515cc" stroke-width="2.6"/>
<line x1="62.5" y1="589.5" x2="62.5" y2="687.0" stroke="#444" stroke-width="1.8"/>
<line x1="61.6" y1="687.0" x2="282.4" y2="687.0" stroke="#444" stroke-width="1.8"/>
<line x1="58.5" y1="591.1" x2="62.5" y2="591.1" stroke="#444" stroke-width="1.4400000000000002"/>
<text transform="translate(55.5,596.1) scale(0.97,1)" text-anchor="end" font-size="14" fill="#4d4d4d" stroke="#4d4d4d" stroke-width="0.5">300</text>
<line x1="58.5" y1="614.4" x2="62.5" y2="614.4" stroke="#444" stroke-width="1.4400000000000002"/>
<text transform="translate(55.5,619.4) scale(0.97,1)" text-anchor="end" font-size="14" fill="#4d4d4d" stroke="#4d4d4d" stroke-width="0.5">200</text>
<line x1="58.5" y1="637.9" x2="62.5" y2="637.9" stroke="#444" stroke-width="1.4400000000000002"/>
<text transform="translate(55.5,642.9) scale(0.97,1)" text-anchor="end" font-size="14" fill="#4d4d4d" stroke="#4d4d4d" stroke-width="0.5">100</text>
<line x1="58.5" y1="661.3" x2="62.5" y2="661.3" stroke="#444" stroke-width="1.4400000000000002"/>
<text transform="translate(55.5,666.3) scale(0.97,1)" text-anchor="end" font-size="14" fill="#4d4d4d" stroke="#4d4d4d" stroke-width="0.5">0</text>
<line x1="58.5" y1="684.8" x2="62.5" y2="684.8" stroke="#444" stroke-width="1.4400000000000002"/>
<text transform="translate(55.5,689.8) scale(0.97,1)" text-anchor="end" font-size="14" fill="#4d4d4d" stroke="#4d4d4d" stroke-width="0.5">−100</text>
<line x1="67.5" y1="687.0" x2="67.5" y2="691.0" stroke="#444" stroke-width="1.4400000000000002"/>
<text transform="translate(67.5,703.2) scale(0.97,1)" text-anchor="middle" font-size="14" fill="#4d4d4d" stroke="#4d4d4d" stroke-width="0.5">−50</text>
<line x1="114.0" y1="687.0" x2="114.0" y2="691.0" stroke="#444" stroke-width="1.4400000000000002"/>
<text transform="translate(114.0,703.2) scale(0.97,1)" text-anchor="middle" font-size="14" fill="#4d4d4d" stroke="#4d4d4d" stroke-width="0.5">0</text>
<line x1="159.6" y1="687.0" x2="159.6" y2="691.0" stroke="#444" stroke-width="1.4400000000000002"/>
<text transform="translate(159.6,703.2) scale(0.97,1)" text-anchor="middle" font-size="14" fill="#4d4d4d" stroke="#4d4d4d" stroke-width="0.5">50</text>
<line x1="205.4" y1="687.0" x2="205.4" y2="691.0" stroke="#444" stroke-width="1.4400000000000002"/>
<text transform="translate(205.4,703.2) scale(0.97,1)" text-anchor="middle" font-size="14" fill="#4d4d4d" stroke="#4d4d4d" stroke-width="0.5">100</text>
<line x1="252.0" y1="687.0" x2="252.0" y2="691.0" stroke="#444" stroke-width="1.4400000000000002"/>
<text transform="translate(252.0,703.2) scale(0.97,1)" text-anchor="middle" font-size="14" fill="#4d4d4d" stroke="#4d4d4d" stroke-width="0.5">150</text>
<text transform="translate(172.6,717.0) scale(1.13,1)" text-anchor="middle" font-size="10.2" fill="#444" stroke="#444" stroke-width="0.25">Autoimmune diseases</text>
<text transform="translate(17.8,638.5) rotate(-90) scale(1,0.97)" text-anchor="middle" font-size="10.6" fill="#444" stroke="#444" stroke-width="0.25">DPM1</text>
<ellipse cx="352.6" cy="660.8" rx="4.1" ry="3.5" fill="#ffa500" stroke="#6b4a10" stroke-width="1.1"/>
<ellipse cx="371.6" cy="662.8" rx="4.1" ry="3.5" fill="#ffa500" stroke="#6b4a10" stroke-width="1.1"/>
<ellipse cx="392" cy="659.4" rx="4.1" ry="3.5" fill="#ffa500" stroke="#6b4a10" stroke-width="1.1"/>
<ellipse cx="394.6" cy="661.1" rx="4.1" ry="3.5" fill="#ffa500" stroke="#6b4a10" stroke-width="1.1"/>
<ellipse cx="401.3" cy="662.3" rx="4.1" ry="3.5" fill="#ffa500" stroke="#6b4a10" stroke-width="1.1"/>
<ellipse cx="412.2" cy="639.3" rx="4.1" ry="3.5" fill="#ffa500" stroke="#6b4a10" stroke-width="1.1"/>
<ellipse cx="410.2" cy="657.8" rx="4.1" ry="3.5" fill="#ffa500" stroke="#6b4a10" stroke-width="1.1"/>
<ellipse cx="415.2" cy="662.3" rx="4.1" ry="3.5" fill="#ffa500" stroke="#6b4a10" stroke-width="1.1"/>
<ellipse cx="421.9" cy="654.9" rx="4.1" ry="3.5" fill="#ffa500" stroke="#6b4a10" stroke-width="1.1"/>
<ellipse cx="434.3" cy="661.1" rx="4.1" ry="3.5" fill="#ffa500" stroke="#6b4a10" stroke-width="1.1"/>
<ellipse cx="440.4" cy="643.2" rx="4.1" ry="3.5" fill="#ffa500" stroke="#6b4a10" stroke-width="1.1"/>
<ellipse cx="442.1" cy="656.1" rx="4.1" ry="3.5" fill="#ffa500" stroke="#6b4a10" stroke-width="1.1"/>
<ellipse cx="448.3" cy="645.5" rx="4.1" ry="3.5" fill="#ffa500" stroke="#6b4a10" stroke-width="1.1"/>
<ellipse cx="456" cy="656" rx="4.1" ry="3.5" fill="#ffa500" stroke="#6b4a10" stroke-width="1.1"/>
<ellipse cx="464.8" cy="651.7" rx="4.1" ry="3.5" fill="#ffa500" stroke="#6b4a10" stroke-width="1.1"/>
<ellipse cx="469.9" cy="648.3" rx="4.1" ry="3.5" fill="#ffa500" stroke="#6b4a10" stroke-width="1.1"/>
<ellipse cx="486.4" cy="622.3" rx="4.1" ry="3.5" fill="#ffa500" stroke="#6b4a10" stroke-width="1.1"/>
<ellipse cx="487.6" cy="641.7" rx="4.1" ry="3.5" fill="#ffa500" stroke="#6b4a10" stroke-width="1.1"/>
<ellipse cx="493.7" cy="647.4" rx="4.1" ry="3.5" fill="#ffa500" stroke="#6b4a10" stroke-width="1.1"/>
<ellipse cx="496.5" cy="651.7" rx="4.1" ry="3.5" fill="#ffa500" stroke="#6b4a10" stroke-width="1.1"/>
<ellipse cx="519.7" cy="654" rx="4.1" ry="3.5" fill="#ffa500" stroke="#6b4a10" stroke-width="1.1"/>
<ellipse cx="537.7" cy="593.3" rx="4.1" ry="3.5" fill="#ffa500" stroke="#6b4a10" stroke-width="1.1"/>
<ellipse cx="560.6" cy="596.7" rx="4.1" ry="3.5" fill="#ffa500" stroke="#6b4a10" stroke-width="1.1"/>
<polygon points="353.1,664.7 358.3,663.8 363.5,662.8 368.6,661.9 373.8,660.9 379.0,660.0 384.2,659.0 389.3,658.0 394.5,657.0 399.7,656.0 404.9,655.0 410.0,653.9 415.2,652.9 420.4,651.7 425.6,650.6 430.7,649.3 435.9,648.1 441.1,646.7 446.2,645.3 451.4,643.9 456.6,642.4 461.8,640.8 467.0,639.2 472.1,637.5 477.3,635.9 482.5,634.2 487.7,632.5 492.8,630.7 498.0,629.0 503.2,627.2 508.4,625.5 513.5,623.7 518.7,621.9 523.9,620.1 529.0,618.3 534.2,616.5 539.4,614.7 544.6,612.9 549.8,611.1 554.9,609.3 560.1,607.5 560.1,630.3 554.9,631.2 549.8,632.1 544.6,633.1 539.4,634.0 534.2,634.9 529.0,635.8 523.9,636.8 518.7,637.7 513.5,638.6 508.4,639.6 503.2,640.6 498.0,641.5 492.8,642.5 487.7,643.5 482.5,644.5 477.3,645.5 472.1,646.6 467.0,647.7 461.8,648.8 456.6,649.9 451.4,651.1 446.2,652.4 441.1,653.7 435.9,655.1 430.7,656.6 425.6,658.1 420.4,659.6 415.2,661.2 410.0,662.9 404.9,664.6 399.7,666.3 394.5,668.0 389.3,669.7 384.2,671.4 379.0,673.2 373.8,675.0 368.6,676.7 363.5,678.5 358.3,680.3 353.1,682.1" fill="#999999" fill-opacity="0.23"/>
<line x1="353.1" y1="673.4" x2="560.1" y2="618.9" stroke="#1515cc" stroke-width="2.6"/>
<line x1="342.4" y1="588.9" x2="342.4" y2="687.1" stroke="#444" stroke-width="1.8"/>
<line x1="341.5" y1="687.1" x2="570" y2="687.1" stroke="#444" stroke-width="1.8"/>
<line x1="338.4" y1="613.4" x2="342.4" y2="613.4" stroke="#444" stroke-width="1.4400000000000002"/>
<text transform="translate(335.4,618.4) scale(0.97,1)" text-anchor="end" font-size="14" fill="#4d4d4d" stroke="#4d4d4d" stroke-width="0.5">800</text>
<line x1="338.4" y1="639.3" x2="342.4" y2="639.3" stroke="#444" stroke-width="1.4400000000000002"/>
<text transform="translate(335.4,644.3) scale(0.97,1)" text-anchor="end" font-size="14" fill="#4d4d4d" stroke="#4d4d4d" stroke-width="0.5">400</text>
<line x1="338.4" y1="665.1" x2="342.4" y2="665.1" stroke="#444" stroke-width="1.4400000000000002"/>
<text transform="translate(335.4,670.1) scale(0.97,1)" text-anchor="end" font-size="14" fill="#4d4d4d" stroke="#4d4d4d" stroke-width="0.5">0</text>
<line x1="382.8" y1="687.1" x2="382.8" y2="691.1" stroke="#444" stroke-width="1.4400000000000002"/>
<text transform="translate(382.8,703.2) scale(0.97,1)" text-anchor="middle" font-size="14" fill="#4d4d4d" stroke="#4d4d4d" stroke-width="0.5">0</text>
<line x1="444.1" y1="687.1" x2="444.1" y2="691.1" stroke="#444" stroke-width="1.4400000000000002"/>
<text transform="translate(444.1,703.2) scale(0.97,1)" text-anchor="middle" font-size="14" fill="#4d4d4d" stroke="#4d4d4d" stroke-width="0.5">250</text>
<line x1="505.0" y1="687.1" x2="505.0" y2="691.1" stroke="#444" stroke-width="1.4400000000000002"/>
<text transform="translate(505.0,703.2) scale(0.97,1)" text-anchor="middle" font-size="14" fill="#4d4d4d" stroke="#4d4d4d" stroke-width="0.5">500</text>
<line x1="566.2" y1="687.1" x2="566.2" y2="691.1" stroke="#444" stroke-width="1.4400000000000002"/>
<text transform="translate(566.2,703.2) scale(0.97,1)" text-anchor="middle" font-size="14" fill="#4d4d4d" stroke="#4d4d4d" stroke-width="0.5">750</text>
<text transform="translate(456.3,717.0) scale(1.13,1)" text-anchor="middle" font-size="10.2" fill="#444" stroke="#444" stroke-width="0.25">Autoimmune diseases</text>
<text transform="translate(306.2,638.0) rotate(-90) scale(1,0.97)" text-anchor="middle" font-size="10.6" fill="#444" stroke="#444" stroke-width="0.25">DPM2</text>
<ellipse cx="64.3" cy="809.5" rx="4.1" ry="3.5" fill="#03c962" stroke="#0f5a2a" stroke-width="1.1"/>
<ellipse cx="68.5" cy="812.4" rx="4.1" ry="3.5" fill="#03c962" stroke="#0f5a2a" stroke-width="1.1"/>
<ellipse cx="79.9" cy="799.4" rx="4.1" ry="3.5" fill="#03c962" stroke="#0f5a2a" stroke-width="1.1"/>
<ellipse cx="81.1" cy="809.5" rx="4.1" ry="3.5" fill="#03c962" stroke="#0f5a2a" stroke-width="1.1"/>
<ellipse cx="89.5" cy="808.7" rx="4.1" ry="3.5" fill="#03c962" stroke="#0f5a2a" stroke-width="1.1"/>
<ellipse cx="90.3" cy="812" rx="4.1" ry="3.5" fill="#03c962" stroke="#0f5a2a" stroke-width="1.1"/>
<ellipse cx="99.5" cy="809.5" rx="4.1" ry="3.5" fill="#03c962" stroke="#0f5a2a" stroke-width="1.1"/>
<ellipse cx="104.1" cy="788.2" rx="4.1" ry="3.5" fill="#03c962" stroke="#0f5a2a" stroke-width="1.1"/>
<ellipse cx="103.7" cy="812.9" rx="4.1" ry="3.5" fill="#03c962" stroke="#0f5a2a" stroke-width="1.1"/>
<ellipse cx="107.1" cy="807.8" rx="4.1" ry="3.5" fill="#03c962" stroke="#0f5a2a" stroke-width="1.1"/>
<ellipse cx="106.2" cy="810.4" rx="4.1" ry="3.5" fill="#03c962" stroke="#0f5a2a" stroke-width="1.1"/>
<ellipse cx="112.1" cy="809.5" rx="4.1" ry="3.5" fill="#03c962" stroke="#0f5a2a" stroke-width="1.1"/>
<ellipse cx="116" cy="784.8" rx="4.1" ry="3.5" fill="#03c962" stroke="#0f5a2a" stroke-width="1.1"/>
<ellipse cx="120.5" cy="794.9" rx="4.1" ry="3.5" fill="#03c962" stroke="#0f5a2a" stroke-width="1.1"/>
<ellipse cx="127.2" cy="810.4" rx="4.1" ry="3.5" fill="#03c962" stroke="#0f5a2a" stroke-width="1.1"/>
<ellipse cx="131.1" cy="803.3" rx="4.1" ry="3.5" fill="#03c962" stroke="#0f5a2a" stroke-width="1.1"/>
<ellipse cx="131.4" cy="813.4" rx="4.1" ry="3.5" fill="#03c962" stroke="#0f5a2a" stroke-width="1.1"/>
<ellipse cx="146" cy="783.5" rx="4.1" ry="3.5" fill="#03c962" stroke="#0f5a2a" stroke-width="1.1"/>
<ellipse cx="151.6" cy="803.3" rx="4.1" ry="3.5" fill="#03c962" stroke="#0f5a2a" stroke-width="1.1"/>
<ellipse cx="155.8" cy="810.7" rx="4.1" ry="3.5" fill="#03c962" stroke="#0f5a2a" stroke-width="1.1"/>
<ellipse cx="185.6" cy="744.9" rx="4.1" ry="3.5" fill="#03c962" stroke="#0f5a2a" stroke-width="1.1"/>
<ellipse cx="210.3" cy="758.8" rx="4.1" ry="3.5" fill="#03c962" stroke="#0f5a2a" stroke-width="1.1"/>
<ellipse cx="272.5" cy="742.7" rx="4.1" ry="3.5" fill="#03c962" stroke="#0f5a2a" stroke-width="1.1"/>
<ellipse cx="185.6" cy="790.9" rx="4.1" ry="3.5" fill="#03c962" stroke="#0f5a2a" stroke-width="1.1"/>
<ellipse cx="189.4" cy="801.3" rx="4.1" ry="3.5" fill="#03c962" stroke="#0f5a2a" stroke-width="1.1"/>
<polygon points="65.3,809.4 70.5,808.3 75.6,807.2 80.8,806.0 86.0,804.9 91.1,803.7 96.3,802.6 101.5,801.4 106.6,800.1 111.8,798.8 117.0,797.5 122.1,796.1 127.3,794.7 132.5,793.1 137.6,791.5 142.8,789.8 148.0,788.0 153.1,786.2 158.3,784.3 163.5,782.3 168.6,780.4 173.8,778.4 179.0,776.3 184.2,774.3 189.3,772.2 194.5,770.2 199.7,768.1 204.8,766.0 210.0,763.9 215.2,761.8 220.3,759.7 225.5,757.6 230.7,755.5 235.8,753.4 241.0,751.2 246.2,749.1 251.3,747.0 256.5,744.9 261.7,742.8 266.8,740.6 272.0,738.5 272.0,768.5 266.8,769.6 261.7,770.6 256.5,771.7 251.3,772.8 246.2,773.9 241.0,774.9 235.8,776.0 230.7,777.1 225.5,778.2 220.3,779.3 215.2,780.4 210.0,781.4 204.8,782.6 199.7,783.7 194.5,784.8 189.3,785.9 184.2,787.0 179.0,788.2 173.8,789.4 168.6,790.5 163.5,791.8 158.3,793.0 153.1,794.3 148.0,795.7 142.8,797.1 137.6,798.6 132.5,800.1 127.3,801.8 122.1,803.5 117.0,805.3 111.8,807.2 106.6,809.1 101.5,811.1 96.3,813.1 91.1,815.1 86.0,817.1 80.8,819.2 75.6,821.2 70.5,823.3 65.3,825.4" fill="#999999" fill-opacity="0.23"/>
<line x1="65.3" y1="817.4" x2="272" y2="753.5" stroke="#1515cc" stroke-width="2.6"/>
<line x1="54.5" y1="732.4" x2="54.5" y2="830.6" stroke="#444" stroke-width="1.8"/>
<line x1="53.6" y1="830.6" x2="283" y2="830.6" stroke="#444" stroke-width="1.8"/>
<line x1="50.5" y1="740.2" x2="54.5" y2="740.2" stroke="#444" stroke-width="1.4400000000000002"/>
<text transform="translate(47.5,745.2) scale(0.97,1)" text-anchor="end" font-size="14" fill="#4d4d4d" stroke="#4d4d4d" stroke-width="0.5">300</text>
<line x1="50.5" y1="764.8" x2="54.5" y2="764.8" stroke="#444" stroke-width="1.4400000000000002"/>
<text transform="translate(47.5,769.8) scale(0.97,1)" text-anchor="end" font-size="14" fill="#4d4d4d" stroke="#4d4d4d" stroke-width="0.5">200</text>
<line x1="50.5" y1="789.4" x2="54.5" y2="789.4" stroke="#444" stroke-width="1.4400000000000002"/>
<text transform="translate(47.5,794.4) scale(0.97,1)" text-anchor="end" font-size="14" fill="#4d4d4d" stroke="#4d4d4d" stroke-width="0.5">100</text>
<line x1="50.5" y1="814.0" x2="54.5" y2="814.0" stroke="#444" stroke-width="1.4400000000000002"/>
<text transform="translate(47.5,819.0) scale(0.97,1)" text-anchor="end" font-size="14" fill="#4d4d4d" stroke="#4d4d4d" stroke-width="0.5">0</text>
<line x1="75.5" y1="830.6" x2="75.5" y2="834.6" stroke="#444" stroke-width="1.4400000000000002"/>
<text transform="translate(75.5,846.5) scale(0.97,1)" text-anchor="middle" font-size="14" fill="#4d4d4d" stroke="#4d4d4d" stroke-width="0.5">0</text>
<line x1="115.5" y1="830.6" x2="115.5" y2="834.6" stroke="#444" stroke-width="1.4400000000000002"/>
<text transform="translate(115.5,846.5) scale(0.97,1)" text-anchor="middle" font-size="14" fill="#4d4d4d" stroke="#4d4d4d" stroke-width="0.5">50</text>
<line x1="155.4" y1="830.6" x2="155.4" y2="834.6" stroke="#444" stroke-width="1.4400000000000002"/>
<text transform="translate(155.4,846.5) scale(0.97,1)" text-anchor="middle" font-size="14" fill="#4d4d4d" stroke="#4d4d4d" stroke-width="0.5">100</text>
<line x1="195.2" y1="830.6" x2="195.2" y2="834.6" stroke="#444" stroke-width="1.4400000000000002"/>
<text transform="translate(195.2,846.5) scale(0.97,1)" text-anchor="middle" font-size="14" fill="#4d4d4d" stroke="#4d4d4d" stroke-width="0.5">150</text>
<line x1="235.3" y1="830.6" x2="235.3" y2="834.6" stroke="#444" stroke-width="1.4400000000000002"/>
<text transform="translate(235.3,846.5) scale(0.97,1)" text-anchor="middle" font-size="14" fill="#4d4d4d" stroke="#4d4d4d" stroke-width="0.5">200</text>
<line x1="275.3" y1="830.6" x2="275.3" y2="834.6" stroke="#444" stroke-width="1.4400000000000002"/>
<text transform="translate(275.3,846.5) scale(0.97,1)" text-anchor="middle" font-size="14" fill="#4d4d4d" stroke="#4d4d4d" stroke-width="0.5">250</text>
<text transform="translate(168.5,860.0) scale(1.13,1)" text-anchor="middle" font-size="10.2" fill="#444" stroke="#444" stroke-width="0.25">Cancer</text>
<text transform="translate(17.8,781.3) rotate(-90) scale(1,0.97)" text-anchor="middle" font-size="10.6" fill="#444" stroke="#444" stroke-width="0.25">DPM1</text>
<ellipse cx="354.3" cy="806.2" rx="4.1" ry="3.5" fill="#03c962" stroke="#0f5a2a" stroke-width="1.1"/>
<ellipse cx="352.1" cy="811.7" rx="4.1" ry="3.5" fill="#03c962" stroke="#0f5a2a" stroke-width="1.1"/>
<ellipse cx="372.7" cy="808.3" rx="4.1" ry="3.5" fill="#03c962" stroke="#0f5a2a" stroke-width="1.1"/>
<ellipse cx="373.6" cy="810.7" rx="4.1" ry="3.5" fill="#03c962" stroke="#0f5a2a" stroke-width="1.1"/>
<ellipse cx="382.8" cy="806.2" rx="4.1" ry="3.5" fill="#03c962" stroke="#0f5a2a" stroke-width="1.1"/>
<ellipse cx="383.6" cy="810.7" rx="4.1" ry="3.5" fill="#03c962" stroke="#0f5a2a" stroke-width="1.1"/>
<ellipse cx="384" cy="786" rx="4.1" ry="3.5" fill="#03c962" stroke="#0f5a2a" stroke-width="1.1"/>
<ellipse cx="391.2" cy="799.4" rx="4.1" ry="3.5" fill="#03c962" stroke="#0f5a2a" stroke-width="1.1"/>
<ellipse cx="394.6" cy="808.7" rx="4.1" ry="3.5" fill="#03c962" stroke="#0f5a2a" stroke-width="1.1"/>
<ellipse cx="400.1" cy="810.7" rx="4.1" ry="3.5" fill="#03c962" stroke="#0f5a2a" stroke-width="1.1"/>
<ellipse cx="403" cy="802" rx="4.1" ry="3.5" fill="#03c962" stroke="#0f5a2a" stroke-width="1.1"/>
<ellipse cx="404.6" cy="804.5" rx="4.1" ry="3.5" fill="#03c962" stroke="#0f5a2a" stroke-width="1.1"/>
<ellipse cx="411.3" cy="803.3" rx="4.1" ry="3.5" fill="#03c962" stroke="#0f5a2a" stroke-width="1.1"/>
<ellipse cx="418.1" cy="795.3" rx="4.1" ry="3.5" fill="#03c962" stroke="#0f5a2a" stroke-width="1.1"/>
<ellipse cx="429" cy="793.6" rx="4.1" ry="3.5" fill="#03c962" stroke="#0f5a2a" stroke-width="1.1"/>
<ellipse cx="430.3" cy="798.9" rx="4.1" ry="3.5" fill="#03c962" stroke="#0f5a2a" stroke-width="1.1"/>
<ellipse cx="436.5" cy="809.5" rx="4.1" ry="3.5" fill="#03c962" stroke="#0f5a2a" stroke-width="1.1"/>
<ellipse cx="440.7" cy="799.4" rx="4.1" ry="3.5" fill="#03c962" stroke="#0f5a2a" stroke-width="1.1"/>
<ellipse cx="444.9" cy="796.1" rx="4.1" ry="3.5" fill="#03c962" stroke="#0f5a2a" stroke-width="1.1"/>
<ellipse cx="448.3" cy="802" rx="4.1" ry="3.5" fill="#03c962" stroke="#0f5a2a" stroke-width="1.1"/>
<ellipse cx="452.5" cy="804.5" rx="4.1" ry="3.5" fill="#03c962" stroke="#0f5a2a" stroke-width="1.1"/>
<ellipse cx="455.4" cy="768.2" rx="4.1" ry="3.5" fill="#03c962" stroke="#0f5a2a" stroke-width="1.1"/>
<ellipse cx="455.8" cy="789.2" rx="4.1" ry="3.5" fill="#03c962" stroke="#0f5a2a" stroke-width="1.1"/>
<ellipse cx="462.3" cy="790.5" rx="4.1" ry="3.5" fill="#03c962" stroke="#0f5a2a" stroke-width="1.1"/>
<ellipse cx="545.5" cy="740.2" rx="4.1" ry="3.5" fill="#03c962" stroke="#0f5a2a" stroke-width="1.1"/>
<ellipse cx="561" cy="736.8" rx="4.1" ry="3.5" fill="#03c962" stroke="#0f5a2a" stroke-width="1.1"/>
<polygon points="353.4,813.8 358.6,812.4 363.7,811.0 368.9,809.6 374.1,808.2 379.2,806.8 384.4,805.3 389.6,803.8 394.7,802.3 399.9,800.7 405.1,799.1 410.2,797.4 415.4,795.7 420.6,793.9 425.7,792.1 430.9,790.2 436.1,788.2 441.2,786.3 446.4,784.3 451.6,782.3 456.8,780.3 461.9,778.3 467.1,776.2 472.3,774.2 477.4,772.1 482.6,770.0 487.8,768.0 492.9,765.9 498.1,763.8 503.3,761.8 508.4,759.7 513.6,757.6 518.8,755.5 523.9,753.4 529.1,751.3 534.3,749.3 539.4,747.2 544.6,745.1 549.8,743.0 554.9,740.9 560.1,738.8 560.1,761.6 554.9,762.9 549.8,764.3 544.6,765.6 539.4,767.0 534.3,768.3 529.1,769.6 523.9,771.0 518.8,772.3 513.6,773.7 508.4,775.0 503.3,776.4 498.1,777.7 492.9,779.1 487.8,780.4 482.6,781.8 477.4,783.2 472.3,784.6 467.1,785.9 461.9,787.3 456.8,788.7 451.6,790.1 446.4,791.6 441.2,793.0 436.1,794.5 430.9,796.0 425.7,797.5 420.6,799.1 415.4,800.7 410.2,802.4 405.1,804.2 399.9,806.0 394.7,807.9 389.6,809.8 384.4,811.7 379.2,813.7 374.1,815.7 368.9,817.7 363.7,819.7 358.6,821.8 353.4,823.8" fill="#999999" fill-opacity="0.23"/>
<line x1="353.4" y1="818.8" x2="560.1" y2="750.2" stroke="#1515cc" stroke-width="2.6"/>
<line x1="342.3" y1="733" x2="342.3" y2="830.4" stroke="#444" stroke-width="1.8"/>
<line x1="341.40000000000003" y1="830.4" x2="570.5" y2="830.4" stroke="#444" stroke-width="1.8"/>
<line x1="338.3" y1="758.4" x2="342.3" y2="758.4" stroke="#444" stroke-width="1.4400000000000002"/>
<text transform="translate(335.3,763.4) scale(0.97,1)" text-anchor="end" font-size="14" fill="#4d4d4d" stroke="#4d4d4d" stroke-width="0.5">800</text>
<line x1="338.3" y1="786.2" x2="342.3" y2="786.2" stroke="#444" stroke-width="1.4400000000000002"/>
<text transform="translate(335.3,791.2) scale(0.97,1)" text-anchor="end" font-size="14" fill="#4d4d4d" stroke="#4d4d4d" stroke-width="0.5">400</text>
<line x1="338.3" y1="814.0" x2="342.3" y2="814.0" stroke="#444" stroke-width="1.4400000000000002"/>
<text transform="translate(335.3,819.0) scale(0.97,1)" text-anchor="end" font-size="14" fill="#4d4d4d" stroke="#4d4d4d" stroke-width="0.5">0</text>
<line x1="368.9" y1="830.4" x2="368.9" y2="834.4" stroke="#444" stroke-width="1.4400000000000002"/>
<text transform="translate(368.9,846.5) scale(0.97,1)" text-anchor="middle" font-size="14" fill="#4d4d4d" stroke="#4d4d4d" stroke-width="0.5">0</text>
<line x1="421.4" y1="830.4" x2="421.4" y2="834.4" stroke="#444" stroke-width="1.4400000000000002"/>
<text transform="translate(421.4,846.5) scale(0.97,1)" text-anchor="middle" font-size="14" fill="#4d4d4d" stroke="#4d4d4d" stroke-width="0.5">250</text>
<line x1="473.3" y1="830.4" x2="473.3" y2="834.4" stroke="#444" stroke-width="1.4400000000000002"/>
<text transform="translate(473.3,846.5) scale(0.97,1)" text-anchor="middle" font-size="14" fill="#4d4d4d" stroke="#4d4d4d" stroke-width="0.5">500</text>
<line x1="525.5" y1="830.4" x2="525.5" y2="834.4" stroke="#444" stroke-width="1.4400000000000002"/>
<text transform="translate(525.5,846.5) scale(0.97,1)" text-anchor="middle" font-size="14" fill="#4d4d4d" stroke="#4d4d4d" stroke-width="0.5">750</text>
<text transform="translate(456.5,860.0) scale(1.13,1)" text-anchor="middle" font-size="10.2" fill="#444" stroke="#444" stroke-width="0.25">Cancer</text>
<text transform="translate(306.2,781.6) rotate(-90) scale(1,0.97)" text-anchor="middle" font-size="10.6" fill="#444" stroke="#444" stroke-width="0.25">DPM2</text>
<ellipse cx="54.6" cy="1024.5" rx="3.3" ry="2.6" fill="#b00000" stroke="#4a0000" stroke-width="0.9"/>
<ellipse cx="65.7" cy="1025.2" rx="3.3" ry="2.6" fill="#b00000" stroke="#4a0000" stroke-width="0.9"/>
<ellipse cx="74.4" cy="1026.6" rx="3.3" ry="2.6" fill="#b00000" stroke="#4a0000" stroke-width="0.9"/>
<ellipse cx="74.4" cy="1019.6" rx="3.3" ry="2.6" fill="#b00000" stroke="#4a0000" stroke-width="0.9"/>
<ellipse cx="76.5" cy="1016.9" rx="3.3" ry="2.6" fill="#b00000" stroke="#4a0000" stroke-width="0.9"/>
<ellipse cx="79.2" cy="1020.4" rx="3.3" ry="2.6" fill="#b00000" stroke="#4a0000" stroke-width="0.9"/>
<ellipse cx="84.4" cy="1023.4" rx="3.3" ry="2.6" fill="#b00000" stroke="#4a0000" stroke-width="0.9"/>
<ellipse cx="88.8" cy="1020.4" rx="3.3" ry="2.6" fill="#b00000" stroke="#4a0000" stroke-width="0.9"/>
<ellipse cx="91.4" cy="998.9" rx="3.3" ry="2.6" fill="#b00000" stroke="#4a0000" stroke-width="0.9"/>
<ellipse cx="91.4" cy="1006.4" rx="3.3" ry="2.6" fill="#b00000" stroke="#4a0000" stroke-width="0.9"/>
<ellipse cx="97.6" cy="1016.9" rx="3.3" ry="2.6" fill="#b00000" stroke="#4a0000" stroke-width="0.9"/>
<ellipse cx="102.8" cy="1021" rx="3.3" ry="2.6" fill="#b00000" stroke="#4a0000" stroke-width="0.9"/>
<ellipse cx="104.2" cy="1010.5" rx="3.3" ry="2.6" fill="#b00000" stroke="#4a0000" stroke-width="0.9"/>
<ellipse cx="109.8" cy="1016.4" rx="3.3" ry="2.6" fill="#b00000" stroke="#4a0000" stroke-width="0.9"/>
<ellipse cx="111.2" cy="1007.7" rx="3.3" ry="2.6" fill="#b00000" stroke="#4a0000" stroke-width="0.9"/>
<ellipse cx="116.8" cy="1006.4" rx="3.3" ry="2.6" fill="#b00000" stroke="#4a0000" stroke-width="0.9"/>
<ellipse cx="120" cy="1002" rx="3.3" ry="2.6" fill="#b00000" stroke="#4a0000" stroke-width="0.9"/>
<ellipse cx="127" cy="990.7" rx="3.3" ry="2.6" fill="#b00000" stroke="#4a0000" stroke-width="0.9"/>
<ellipse cx="128.2" cy="981.4" rx="3.3" ry="2.6" fill="#b00000" stroke="#4a0000" stroke-width="0.9"/>
<ellipse cx="140.5" cy="976.6" rx="3.3" ry="2.6" fill="#b00000" stroke="#4a0000" stroke-width="0.9"/>
<ellipse cx="147" cy="967" rx="3.3" ry="2.6" fill="#b00000" stroke="#4a0000" stroke-width="0.9"/>
<ellipse cx="158.9" cy="969.6" rx="3.3" ry="2.6" fill="#b00000" stroke="#4a0000" stroke-width="0.9"/>
<ellipse cx="239.2" cy="917.1" rx="3.3" ry="2.6" fill="#b00000" stroke="#4a0000" stroke-width="0.9"/>
<ellipse cx="253.4" cy="889.3" rx="3.3" ry="2.6" fill="#b00000" stroke="#4a0000" stroke-width="0.9"/>
<ellipse cx="279.7" cy="883.6" rx="3.3" ry="2.6" fill="#b00000" stroke="#4a0000" stroke-width="0.9"/>
<polygon points="55.2,1035.8 60.8,1032.2 66.4,1028.5 71.9,1024.9 77.5,1021.2 83.1,1017.5 88.7,1013.8 94.3,1010.0 99.8,1006.2 105.4,1002.4 111.0,998.5 116.6,994.5 122.2,990.5 127.7,986.4 133.3,982.3 138.9,978.2 144.5,974.1 150.1,970.0 155.6,965.9 161.2,961.7 166.8,957.6 172.4,953.4 178.0,949.3 183.5,945.1 189.1,941.0 194.7,936.8 200.3,932.6 205.9,928.5 211.4,924.3 217.0,920.2 222.6,916.0 228.2,911.8 233.8,907.7 239.3,903.5 244.9,899.3 250.5,895.1 256.1,891.0 261.7,886.8 267.2,882.6 272.8,878.5 278.4,874.3 278.4,892.9 272.8,896.5 267.2,900.1 261.7,903.7 256.1,907.3 250.5,910.9 244.9,914.4 239.3,918.0 233.8,921.6 228.2,925.2 222.6,928.8 217.0,932.4 211.4,936.0 205.9,939.6 200.3,943.2 194.7,946.8 189.1,950.4 183.5,954.0 178.0,957.6 172.4,961.2 166.8,964.8 161.2,968.4 155.6,972.0 150.1,975.7 144.5,979.3 138.9,983.0 133.3,986.6 127.7,990.3 122.2,994.0 116.6,997.8 111.0,1001.5 105.4,1005.4 99.8,1009.3 94.3,1013.2 88.7,1017.2 83.1,1021.3 77.5,1025.3 71.9,1029.4 66.4,1033.5 60.8,1037.7 55.2,1041.8" fill="#999999" fill-opacity="0.23"/>
<line x1="55.2" y1="1038.8" x2="278.4" y2="883.6" stroke="#2b2bd0" stroke-width="2.1"/>
<line x1="43.4" y1="866" x2="43.4" y2="1052.3" stroke="#666" stroke-width="1.7"/>
<line x1="42.55" y1="1052.3" x2="290.2" y2="1052.3" stroke="#666" stroke-width="1.7"/>
<line x1="40.4" y1="879.4" x2="43.4" y2="879.4" stroke="#666" stroke-width="1.36"/>
<text transform="translate(38.1,883.2) scale(1.05,1)" text-anchor="end" font-size="10.5" fill="#4d4d4d" stroke="#4d4d4d" stroke-width="0.35">300</text>
<line x1="40.4" y1="928.7" x2="43.4" y2="928.7" stroke="#666" stroke-width="1.36"/>
<text transform="translate(38.1,932.5) scale(1.05,1)" text-anchor="end" font-size="10.5" fill="#4d4d4d" stroke="#4d4d4d" stroke-width="0.35">200</text>
<line x1="40.4" y1="978.8" x2="43.4" y2="978.8" stroke="#666" stroke-width="1.36"/>
<text transform="translate(38.1,982.6) scale(1.05,1)" text-anchor="end" font-size="10.5" fill="#4d4d4d" stroke="#4d4d4d" stroke-width="0.35">100</text>
<line x1="40.4" y1="1028.8" x2="43.4" y2="1028.8" stroke="#666" stroke-width="1.36"/>
<text transform="translate(38.1,1032.6) scale(1.05,1)" text-anchor="end" font-size="10.5" fill="#4d4d4d" stroke="#4d4d4d" stroke-width="0.35">0</text>
<line x1="68.8" y1="1052.3" x2="68.8" y2="1055.3" stroke="#666" stroke-width="1.36"/>
<text transform="translate(68.8,1064.3) scale(1.05,1)" text-anchor="middle" font-size="10.5" fill="#4d4d4d" stroke="#4d4d4d" stroke-width="0.35">0</text>
<line x1="141.2" y1="1052.3" x2="141.2" y2="1055.3" stroke="#666" stroke-width="1.36"/>
<text transform="translate(141.2,1064.3) scale(1.05,1)" text-anchor="middle" font-size="10.5" fill="#4d4d4d" stroke="#4d4d4d" stroke-width="0.35">100</text>
<line x1="214.2" y1="1052.3" x2="214.2" y2="1055.3" stroke="#666" stroke-width="1.36"/>
<text transform="translate(214.2,1064.3) scale(1.05,1)" text-anchor="middle" font-size="10.5" fill="#4d4d4d" stroke="#4d4d4d" stroke-width="0.35">200</text>
<line x1="286.9" y1="1052.3" x2="286.9" y2="1055.3" stroke="#666" stroke-width="1.36"/>
<text transform="translate(286.9,1064.3) scale(1.05,1)" text-anchor="middle" font-size="10.5" fill="#4d4d4d" stroke="#4d4d4d" stroke-width="0.35">300</text>
<text transform="translate(166.6,1075.0) scale(1.2,1)" text-anchor="middle" font-size="8.0" fill="#383838" stroke="#383838" stroke-width="0.3">Demography,sanitation,autoimmune diseases and cancer</text>
<text transform="translate(14.3,959.6) rotate(-90) scale(1,1.08)" text-anchor="middle" font-size="7.8" fill="#383838" stroke="#383838" stroke-width="0.3">DPM1</text>
<ellipse cx="356" cy="1032" rx="3.3" ry="2.6" fill="#b00000" stroke="#4a0000" stroke-width="0.9"/>
<ellipse cx="362.2" cy="1033.1" rx="3.3" ry="2.6" fill="#b00000" stroke="#4a0000" stroke-width="0.9"/>
<ellipse cx="365.1" cy="1021.8" rx="3.3" ry="2.6" fill="#b00000" stroke="#4a0000" stroke-width="0.9"/>
<ellipse cx="367.6" cy="1026.9" rx="3.3" ry="2.6" fill="#b00000" stroke="#4a0000" stroke-width="0.9"/>
<ellipse cx="372.7" cy="1029.6" rx="3.3" ry="2.6" fill="#b00000" stroke="#4a0000" stroke-width="0.9"/>
<ellipse cx="377.1" cy="1027.7" rx="3.3" ry="2.6" fill="#b00000" stroke="#4a0000" stroke-width="0.9"/>
<ellipse cx="380.8" cy="1031.3" rx="3.3" ry="2.6" fill="#b00000" stroke="#4a0000" stroke-width="0.9"/>
<ellipse cx="387.3" cy="1022.6" rx="3.3" ry="2.6" fill="#b00000" stroke="#4a0000" stroke-width="0.9"/>
<ellipse cx="391" cy="1018.9" rx="3.3" ry="2.6" fill="#b00000" stroke="#4a0000" stroke-width="0.9"/>
<ellipse cx="393.2" cy="1013.8" rx="3.3" ry="2.6" fill="#b00000" stroke="#4a0000" stroke-width="0.9"/>
<ellipse cx="396.8" cy="1016" rx="3.3" ry="2.6" fill="#b00000" stroke="#4a0000" stroke-width="0.9"/>
<ellipse cx="399.3" cy="1018.9" rx="3.3" ry="2.6" fill="#b00000" stroke="#4a0000" stroke-width="0.9"/>
<ellipse cx="403.4" cy="1000.7" rx="3.3" ry="2.6" fill="#b00000" stroke="#4a0000" stroke-width="0.9"/>
<ellipse cx="406" cy="1008.2" rx="3.3" ry="2.6" fill="#b00000" stroke="#4a0000" stroke-width="0.9"/>
<ellipse cx="408.9" cy="996.3" rx="3.3" ry="2.6" fill="#b00000" stroke="#4a0000" stroke-width="0.9"/>
<ellipse cx="416.5" cy="1008.2" rx="3.3" ry="2.6" fill="#b00000" stroke="#4a0000" stroke-width="0.9"/>
<ellipse cx="418.7" cy="1008.2" rx="3.3" ry="2.6" fill="#b00000" stroke="#4a0000" stroke-width="0.9"/>
<ellipse cx="421.6" cy="985.3" rx="3.3" ry="2.6" fill="#b00000" stroke="#4a0000" stroke-width="0.9"/>
<ellipse cx="422.1" cy="988.7" rx="3.3" ry="2.6" fill="#b00000" stroke="#4a0000" stroke-width="0.9"/>
<ellipse cx="432.3" cy="981" rx="3.3" ry="2.6" fill="#b00000" stroke="#4a0000" stroke-width="0.9"/>
<ellipse cx="482.3" cy="943.3" rx="3.3" ry="2.6" fill="#b00000" stroke="#4a0000" stroke-width="0.9"/>
<ellipse cx="575" cy="878.1" rx="3.3" ry="2.6" fill="#b00000" stroke="#4a0000" stroke-width="0.9"/>
<ellipse cx="572.9" cy="886" rx="3.3" ry="2.6" fill="#b00000" stroke="#4a0000" stroke-width="0.9"/>
<polygon points="356.4,1037.8 361.8,1034.0 367.3,1030.2 372.7,1026.4 378.1,1022.6 383.6,1018.8 389.0,1015.0 394.4,1011.2 399.9,1007.3 405.3,1003.5 410.7,999.7 416.2,995.8 421.6,991.9 427.0,988.0 432.5,984.1 437.9,980.1 443.3,976.1 448.8,972.1 454.2,968.0 459.6,963.9 465.1,959.9 470.5,955.8 475.9,951.6 481.3,947.5 486.8,943.4 492.2,939.3 497.6,935.1 503.1,931.0 508.5,926.9 513.9,922.7 519.4,918.6 524.8,914.4 530.2,910.3 535.7,906.2 541.1,902.0 546.5,897.9 552.0,893.7 557.4,889.6 562.8,885.4 568.3,881.3 573.7,877.1 573.7,887.1 568.3,890.9 562.8,894.7 557.4,898.5 552.0,902.2 546.5,906.0 541.1,909.8 535.7,913.6 530.2,917.4 524.8,921.2 519.4,925.0 513.9,928.8 508.5,932.5 503.1,936.3 497.6,940.1 492.2,943.9 486.8,947.8 481.3,951.6 475.9,955.4 470.5,959.2 465.1,963.0 459.6,966.9 454.2,970.8 448.8,974.6 443.3,978.6 437.9,982.5 432.5,986.5 427.0,990.5 421.6,994.5 416.2,998.5 410.7,1002.6 405.3,1006.7 399.9,1010.8 394.4,1014.9 389.0,1019.0 383.6,1023.1 378.1,1027.3 372.7,1031.4 367.3,1035.5 361.8,1039.7 356.4,1043.8" fill="#999999" fill-opacity="0.23"/>
<line x1="356.4" y1="1040.8" x2="573.7" y2="882.1" stroke="#2b2bd0" stroke-width="2.1"/>
<line x1="345.4" y1="865.6" x2="345.4" y2="1052.4" stroke="#666" stroke-width="1.7"/>
<line x1="344.54999999999995" y1="1052.4" x2="585.5" y2="1052.4" stroke="#666" stroke-width="1.7"/>
<line x1="342.4" y1="866.6" x2="345.4" y2="866.6" stroke="#666" stroke-width="1.36"/>
<text transform="translate(340.1,870.4) scale(1.05,1)" text-anchor="end" font-size="10.5" fill="#4d4d4d" stroke="#4d4d4d" stroke-width="0.35">1200</text>
<line x1="342.4" y1="909.6" x2="345.4" y2="909.6" stroke="#666" stroke-width="1.36"/>
<text transform="translate(340.1,913.4) scale(1.05,1)" text-anchor="end" font-size="10.5" fill="#4d4d4d" stroke="#4d4d4d" stroke-width="0.35">900</text>
<line x1="342.4" y1="952.6" x2="345.4" y2="952.6" stroke="#666" stroke-width="1.36"/>
<text transform="translate(340.1,956.4) scale(1.05,1)" text-anchor="end" font-size="10.5" fill="#4d4d4d" stroke="#4d4d4d" stroke-width="0.35">600</text>
<line x1="342.4" y1="995.6" x2="345.4" y2="995.6" stroke="#666" stroke-width="1.36"/>
<text transform="translate(340.1,999.4) scale(1.05,1)" text-anchor="end" font-size="10.5" fill="#4d4d4d" stroke="#4d4d4d" stroke-width="0.35">300</text>
<line x1="342.4" y1="1038.4" x2="345.4" y2="1038.4" stroke="#666" stroke-width="1.36"/>
<text transform="translate(340.1,1042.2) scale(1.05,1)" text-anchor="end" font-size="10.5" fill="#4d4d4d" stroke="#4d4d4d" stroke-width="0.35">0</text>
<line x1="359.4" y1="1052.4" x2="359.4" y2="1055.4" stroke="#666" stroke-width="1.36"/>
<text transform="translate(359.4,1064.3) scale(1.05,1)" text-anchor="middle" font-size="10.5" fill="#4d4d4d" stroke="#4d4d4d" stroke-width="0.35">0</text>
<line x1="418.1" y1="1052.4" x2="418.1" y2="1055.4" stroke="#666" stroke-width="1.36"/>
<text transform="translate(418.1,1064.3) scale(1.05,1)" text-anchor="middle" font-size="10.5" fill="#4d4d4d" stroke="#4d4d4d" stroke-width="0.35">300</text>
<line x1="477.3" y1="1052.4" x2="477.3" y2="1055.4" stroke="#666" stroke-width="1.36"/>
<text transform="translate(477.3,1064.3) scale(1.05,1)" text-anchor="middle" font-size="10.5" fill="#4d4d4d" stroke="#4d4d4d" stroke-width="0.35">600</text>
<line x1="536.4" y1="1052.4" x2="536.4" y2="1055.4" stroke="#666" stroke-width="1.36"/>
<text transform="translate(536.4,1064.3) scale(1.05,1)" text-anchor="middle" font-size="10.5" fill="#4d4d4d" stroke="#4d4d4d" stroke-width="0.35">900</text>
<text transform="translate(465.2,1075.0) scale(1.2,1)" text-anchor="middle" font-size="8.0" fill="#383838" stroke="#383838" stroke-width="0.3">Demography,sanitation,autoimmune diseases and cancer</text>
<text transform="translate(309.3,959.0) rotate(-90) scale(1,1.08)" text-anchor="middle" font-size="7.8" fill="#383838" stroke="#383838" stroke-width="0.3">DPM2</text>
<text x="302" y="1122" font-size="15" fill="#222">(b)</text>
</g>
</svg>
</body></html>
